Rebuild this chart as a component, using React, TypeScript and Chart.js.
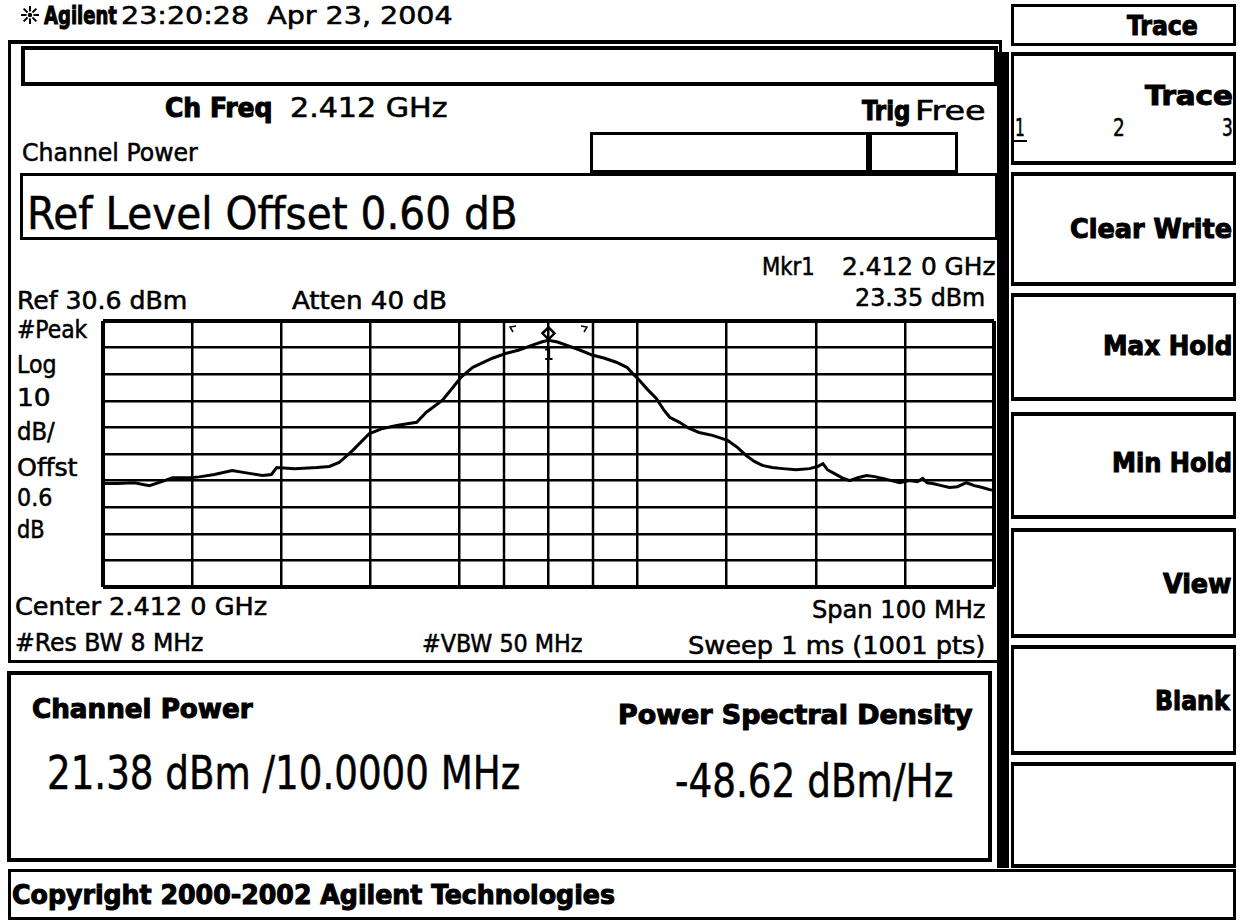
import React, { useEffect, useLayoutEffect, useRef } from "react";
import { Chart, registerables } from "chart.js";

Chart.register(...registerables);

// ---------------- data ----------------
const CENTER_GHZ = 2.412;
const FREQ_OFFSET_MHZ = [
  -50, -48.5, -46.5, -44.8, -43.4, -42.2, -40.3, -39.2, -37.5, -35.5, -34.1, -32.1, -31.1, -30.5,
  -28.5, -26.0, -24.6, -23.5, -22.0, -20.1, -18.6, -16.9, -14.8, -13.7, -11.9, -10.8, -9.8, -8.5,
  -6.3, -4.7, -3.3, -1.8, -0.7, 0, 1.0, 2.0, 3.5, 4.9, 6.3, 7.6, 8.8, 9.4, 10.2, 11.1, 12.1, 12.9,
  13.6, 14.7, 15.8, 16.9, 18.4, 20.1, 21.2, 22.2, 23.1, 24.0, 25.1, 26.3, 27.8, 29.3, 30.2, 30.8,
  31.3, 31.9, 32.9, 33.8, 34.7, 35.7, 36.6, 37.5, 38.5, 39.4, 40.5, 41.4, 42.0, 42.5, 43.1, 44.1,
  45.0, 45.9, 46.9, 47.8, 48.7, 49.5, 50,
];
const TRACE_DBM = [
  -30.5, -30.5, -30.2, -31.3, -29.8, -28.3, -28.3, -28.0, -27.1, -25.6, -26.4, -27.5, -27.1, -24.5,
  -24.9, -24.5, -24.1, -22.6, -18.1, -11.7, -9.8, -8.6, -7.5, -3.7, 0.8, 5.3, 9.5, 13.2,
  16.6, 18.5, 19.7, 21.5, 22.8, 23.35, 22.7, 21.5, 19.7, 17.8, 16.6, 15.1, 13.2, 11.0, 8.3, 4.9, 1.5, -2.6,
  -5.6, -7.5, -9.8, -11.3, -12.4, -14.3, -16.9, -20.0, -22.2, -23.7, -24.5, -24.9, -25.3, -24.9, -24.1, -23.0,
  -25.3, -26.4, -28.3, -29.4, -28.3, -27.5, -27.9, -28.6, -29.4, -30.2, -29.4, -29.8, -28.6, -30.2, -30.5, -31.3,
  -32.0, -31.7, -30.2, -31.3, -32.0, -32.8, -33.0,
];
const X_TICKS_MHZ = [-50, -40, -30, -20, -10, 0, 10, 20, 30, 40, 50];
const Y_TICKS_DBM = [30.6, 20.6, 10.6, 0.6, -9.4, -19.4, -29.4, -39.4, -49.4, -59.4, -69.4];
const MARKER_OFFSET_MHZ = [0];
const MARKER_DBM = [23.35];
const CHANNEL_EDGES_MHZ = [-5, 5];

const NARROW = '"Liberation Sans Narrow", "DejaVu Sans Condensed", "Liberation Sans", sans-serif';

// ---------------- helpers ----------------
type TProps = { x: number; r: number; y: number; s: number; b?: boolean; children: React.ReactNode };
function T({ x, r, y, s, b, children }: TProps) {
  const ref = useRef<HTMLSpanElement>(null);
  useLayoutEffect(() => {
    const el = ref.current;
    if (!el) return;
    el.style.transform = "none";
    const actual = el.offsetWidth;
    if (actual > 0) el.style.transform = `scaleX(${(r - x) / actual})`;
  }, [x, r, children]);
  return (
    <span
      ref={ref}
      style={{
        position: "absolute",
        left: x,
        top: y - s * 0.49,
        fontSize: s,
        lineHeight: `${s}px`,
        fontFamily: NARROW,
        fontWeight: b ? 700 : 400,
        whiteSpace: "pre",
        transformOrigin: "0 0",
        color: "#000",
        WebkitTextStroke: b ? "1px #000" : "0.5px #000",
      }}
    >
      {children}
    </span>
  );
}

type BProps = { l: number; t: number; r: number; b: number; w?: number; wt?: number; wb?: number; fill?: boolean };
function Box({ l, t, r, b, w = 3, wt, wb, fill }: BProps) {
  return (
    <div
      style={{
        position: "absolute",
        left: l,
        top: t,
        width: r - l,
        height: b - t,
        boxSizing: "border-box",
        background: fill ? "#000" : "transparent",
        borderStyle: fill ? "none" : "solid",
        borderColor: "#000",
        borderLeftWidth: w,
        borderRightWidth: w,
        borderTopWidth: wt ?? w,
        borderBottomWidth: wb ?? w,
      }}
    />
  );
}

const overlayPlugin = {
  id: "saOverlay",
  beforeDatasetsDraw(chart: any) {
    const { ctx, chartArea, scales } = chart;
    const xs = scales.x;
    ctx.save();
    ctx.strokeStyle = "#000";
    CHANNEL_EDGES_MHZ.forEach((f, i) => {
      const px = Math.round(xs.getPixelForValue(f));
      ctx.lineWidth = 2.5;
      ctx.beginPath();
      ctx.moveTo(px, chartArea.top);
      ctx.lineTo(px, chartArea.bottom);
      ctx.stroke();
      const dir = i === 0 ? 1 : -1;
      ctx.lineWidth = 1.5;
      ctx.beginPath();
      ctx.moveTo(px + dir * 9, chartArea.top + 11);
      ctx.lineTo(px + dir * 6, chartArea.top + 6);
      ctx.lineTo(px + dir * 12, chartArea.top + 5);
      ctx.stroke();
    });
    ctx.restore();
  },
  afterDatasetsDraw(chart: any) {
    const { ctx, scales } = chart;
    MARKER_OFFSET_MHZ.forEach((f, i) => {
      const mx = scales.x.getPixelForValue(f);
      const my = scales.y.getPixelForValue(MARKER_DBM[i]);
      ctx.save();
      ctx.strokeStyle = "#000";
      ctx.lineWidth = 2.5;
      const cy = my - 7;
      const h = 6;
      ctx.beginPath();
      ctx.moveTo(mx, cy - h);
      ctx.lineTo(mx + h, cy);
      ctx.lineTo(mx, cy + h);
      ctx.lineTo(mx - h, cy);
      ctx.closePath();
      ctx.stroke();
      ctx.fillStyle = "#000";
      ctx.font = `bold 16px ${NARROW}`;
      ctx.textAlign = "center";
      ctx.textBaseline = "middle";
      ctx.fillText(String(i + 1), mx, my + 16);
      ctx.restore();
    });
  },
};

function Spectrum() {
  const ref = useRef<HTMLCanvasElement>(null);
  useEffect(() => {
    if (!ref.current) return;
    const last = 10;
    const gridWidth = (c: any) => (c.index === 0 || c.index === last ? 4 : 2.5);
    const chart = new Chart(ref.current, {
      type: "line",
      data: {
        datasets: [
          {
            label: "Trace 1",
            data: FREQ_OFFSET_MHZ.map((f, i) => ({ x: f, y: TRACE_DBM[i] })),
            borderColor: "#000",
            borderWidth: 3,
            pointRadius: 0,
            tension: 0,
            fill: false,
          },
        ],
      },
      options: {
        animation: false,
        responsive: false,
        devicePixelRatio: 1,
        layout: { padding: { left: 4, right: 5, top: 4, bottom: 4 } },
        plugins: { legend: { display: false }, tooltip: { enabled: false } },
        events: [],
        scales: {
          x: {
            type: "linear",
            min: -50,
            max: 50,
            afterBuildTicks: (s: any) => {
              s.ticks = X_TICKS_MHZ.map((v) => ({ value: v }));
            },
            ticks: { display: false },
            grid: { color: "#000", lineWidth: gridWidth, drawTicks: false },
            border: { display: false },
          },
          y: {
            type: "linear",
            min: -69.4,
            max: 30.6,
            afterBuildTicks: (s: any) => {
              s.ticks = Y_TICKS_DBM.map((v) => ({ value: v }));
            },
            ticks: { display: false },
            grid: { color: "#000", lineWidth: gridWidth, drawTicks: false },
            border: { display: false },
          },
        },
      },
      plugins: [overlayPlugin],
    } as any);
    return () => chart.destroy();
  }, []);
  return (
    <canvas
      ref={ref}
      width={900}
      height={274}
      style={{ position: "absolute", left: 99, top: 317, width: 900, height: 274 }}
    />
  );
}

function Star() {
  const lines = [];
  for (let i = 0; i < 8; i++) {
    const a = (i * Math.PI) / 4;
    lines.push(
      <line
        key={i}
        x1={30 + Math.cos(a) * 3.5}
        y1={15 + Math.sin(a) * 3.5}
        x2={30 + Math.cos(a) * 9}
        y2={15 + Math.sin(a) * 9}
        stroke="#000"
        strokeWidth={2}
      />
    );
  }
  return (
    <svg width={60} height={30} style={{ position: "absolute", left: 0, top: 0 }}>
      {lines}
      <circle cx={30} cy={15} r={2.2} fill="#000" />
    </svg>
  );
}

const KEYS: [number, number, string, number, number, number][] = [
  [172, 286, "Clear Write", 1070, 1232, 228],
  [293, 401, "Max Hold", 1103, 1232, 345],
  [412, 519, "Min Hold", 1112, 1232, 462],
  [528, 638, "View", 1163, 1232, 583],
  [645, 755, "Blank", 1155, 1230, 700],
  [762, 868, "", 0, 0, 0],
];

export default function App() {
  return (
    <div
      style={{
        position: "fixed",
        left: 0,
        top: 0,
        width: 1241,
        height: 922,
        background: "#fff",
        overflow: "hidden",
      }}
    >
      {/* header */}
      <Star />
      <T x={44} r={117} y={15} s={25} b>Agilent</T>
      <T x={121} r={452} y={15} s={25}>{"23:20:28  Apr 23, 2004"}</T>

      {/* main frame */}
      <Box l={8} t={40} r={1002} b={663} w={3} wt={4} />
      <Box l={21} t={46} r={998} b={86} w={4} />
      <T x={165} r={272} y={108} s={26} b>Ch Freq</T>
      <T x={290} r={447} y={108} s={26}>2.412 GHz</T>
      <T x={862} r={910} y={111} s={26} b>Trig</T>
      <T x={915} r={985} y={111} s={26}>Free</T>
      <T x={22} r={198} y={153} s={24}>Channel Power</T>
      <Box l={590} t={132} r={958} b={173} w={3} />
      <Box l={866} t={132} r={872} b={173} fill />
      <Box l={20} t={173} r={998} b={240} w={3} />
      <T x={27} r={518} y={213} s={45}>Ref Level Offset 0.60 dB</T>

      <T x={762} r={815} y={267} s={24}>Mkr1</T>
      <T x={842} r={996} y={267} s={24}>2.412 0 GHz</T>
      <T x={17} r={187} y={301} s={24}>Ref 30.6 dBm</T>
      <T x={292} r={447} y={301} s={24}>Atten 40 dB</T>
      <T x={855} r={985} y={298} s={24}>23.35 dBm</T>

      <T x={17} r={87} y={330} s={24}>#Peak</T>
      <T x={17} r={57} y={365} s={24}>Log</T>
      <T x={17} r={50} y={398} s={24}>10</T>
      <T x={17} r={55} y={432} s={24}>dB/</T>
      <T x={17} r={78} y={468} s={24}>Offst</T>
      <T x={17} r={52} y={498} s={24}>0.6</T>
      <T x={17} r={45} y={530} s={24}>dB</T>

      <Spectrum />

      <T x={15} r={267} y={607} s={24}>Center 2.412 0 GHz</T>
      <T x={812} r={985} y={610} s={24}>Span 100 MHz</T>
      <T x={15} r={203} y={643} s={24}>#Res BW 8 MHz</T>
      <T x={422} r={583} y={644} s={24}>#VBW 50 MHz</T>
      <T x={688} r={985} y={646} s={24}>Sweep 1 ms (1001 pts)</T>

      {/* channel power result box */}
      <Box l={7} t={671} r={992} b={862} w={4} />
      <T x={32} r={253} y={708} s={27} b>Channel Power</T>
      <T x={618} r={973} y={714} s={27} b>Power Spectral Density</T>
      <T x={47} r={520} y={773} s={46}>21.38 dBm /10.0000 MHz</T>
      <T x={675} r={953} y={781} s={46}>-48.62 dBm/Hz</T>

      {/* copyright */}
      <Box l={8} t={869} r={1236} b={920} w={3} />
      <T x={12} r={615} y={894} s={27} b>Copyright 2000-2002 Agilent Technologies</T>

      {/* right bar + softkeys */}
      <Box l={997} t={52} r={1009} b={868} fill />
      <Box l={1011} t={4} r={1236} b={46} w={3} />
      <T x={1127} r={1198} y={25} s={27} b>Trace</T>
      <Box l={1011} t={52} r={1236} b={165} w={3} wt={4} wb={4} />
      <T x={1145} r={1233} y={95} s={27} b>Trace</T>
      <T x={1015} r={1025} y={128} s={24}>1</T>
      <div style={{ position: "absolute", left: 1013, top: 140, width: 14, height: 2, background: "#000" }} />
      <T x={1113} r={1125} y={128} s={24}>2</T>
      <T x={1222} r={1233} y={128} s={24}>3</T>
      {KEYS.map(([t, b, label, x, r, y]) => (
        <React.Fragment key={t}>
          <Box l={1011} t={t} r={1236} b={b} w={3} wt={4} wb={4} />
          {label ? (
            <T x={x} r={r} y={y} s={27} b>
              {label}
            </T>
          ) : null}
        </React.Fragment>
      ))}
    </div>
  );
}
